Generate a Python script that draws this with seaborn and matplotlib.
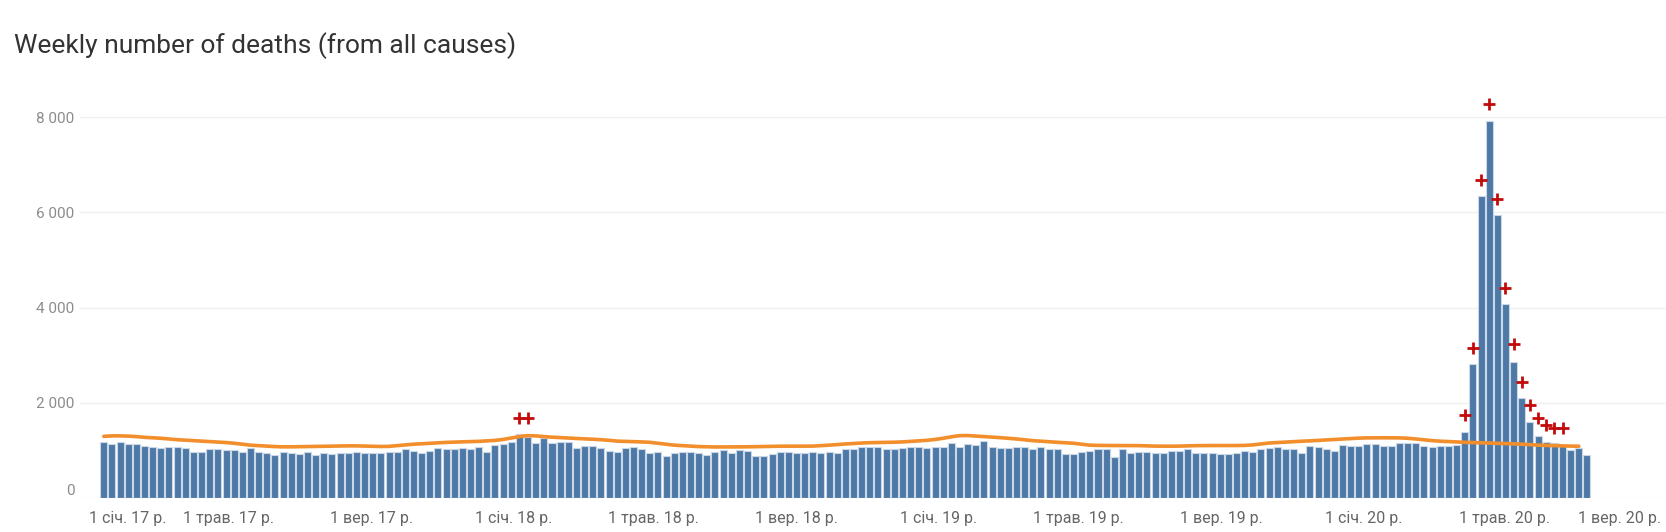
import pandas as pd
import matplotlib
matplotlib.use("Agg")
import matplotlib.pyplot as plt
import matplotlib.transforms as mtransforms
import seaborn as sns

# Weekly deaths (bars)
deaths = [
    1186, 1144, 1179, 1144, 1137, 1102, 1067, 1046, 1067, 1081,
    1060, 975, 975, 1039, 1039, 1004, 1004, 975, 1053, 975,
    947, 898, 975, 947, 926, 975, 898, 954, 926, 947,
    947, 975, 954, 954, 954, 968, 968, 1039, 996, 947,
    996, 1053, 1039, 1039, 1053, 1039, 1074, 968, 1109, 1137,
    1186, 1347, 1277, 1158, 1256, 1158, 1179, 1179, 1053, 1102,
    1102, 1053, 996, 968, 1053, 1074, 1032, 947, 968, 891,
    947, 960, 968, 947, 912, 968, 1018, 947, 1018, 996,
    891, 891, 926, 968, 968, 947, 947, 968, 947, 968,
    947, 1032, 1032, 1067, 1081, 1081, 1032, 1032, 1053, 1081,
    1081, 1053, 1081, 1081, 1158, 1074, 1137, 1120, 1207, 1074,
    1053, 1053, 1074, 1074, 1032, 1074, 1032, 1032, 926, 926,
    968, 996, 1032, 1032, 863, 1032, 947, 968, 968, 947,
    947, 996, 996, 1032, 947, 947, 947, 926, 926, 947,
    996, 968, 1032, 1050, 1074, 1032, 1032, 947, 1102, 1074,
    1032, 996, 1123, 1102, 1102, 1137, 1137, 1102, 1102, 1158,
    1158, 1158, 1102, 1074, 1102, 1102, 1123, 1389, 2815, 6334,
    7923, 5951, 4084, 2860, 2105, 1600, 1312, 1179, 1158, 1123,
    1004, 1053, 898,
]

# Expected deaths (orange line)
expected = [
    1295, 1305, 1305, 1300, 1290, 1275, 1265, 1255, 1240, 1225,
    1215, 1205, 1195, 1185, 1175, 1165, 1150, 1130, 1110, 1100,
    1090, 1080, 1075, 1075, 1078, 1080, 1082, 1085, 1090, 1093,
    1095, 1095, 1090, 1085, 1082, 1085, 1100, 1115, 1130, 1140,
    1150, 1160, 1168, 1175, 1180, 1185, 1190, 1200, 1210, 1230,
    1260, 1290, 1310, 1305, 1290, 1278, 1270, 1260, 1250, 1242,
    1235, 1225, 1212, 1195, 1190, 1185, 1178, 1170, 1150, 1130,
    1110, 1100, 1090, 1080, 1075, 1072, 1072, 1072, 1074, 1075,
    1078, 1082, 1086, 1088, 1088, 1088, 1088, 1090, 1100, 1110,
    1123, 1135, 1145, 1155, 1162, 1165, 1168, 1172, 1178, 1188,
    1200, 1212, 1230, 1255, 1285, 1310, 1312, 1300, 1290, 1280,
    1268, 1255, 1240, 1222, 1205, 1193, 1182, 1170, 1160, 1150,
    1130, 1110, 1105, 1103, 1102, 1102, 1102, 1100, 1095, 1090,
    1088, 1088, 1090, 1095, 1100, 1102, 1102, 1102, 1102, 1102,
    1105, 1115, 1135, 1155, 1165, 1175, 1185, 1193, 1200, 1210,
    1220, 1228, 1238, 1248, 1258, 1263, 1265, 1265, 1265, 1263,
    1255, 1240, 1222, 1205, 1193, 1185, 1178, 1170, 1165, 1160,
    1155, 1150, 1144, 1138, 1130, 1122, 1110, 1105, 1100, 1095,
    1090, 1088,
]

# Red crosses (weeks flagged above the threshold)
cross_weeks = [51, 52, 167, 168, 169, 170, 171, 172, 173, 174, 175, 176, 177, 178, 179]
cross_values = [1684, 1684, 1754, 3160, 6683, 8279, 6286, 4418, 3225, 2427, 1958, 1684, 1537, 1480, 1474]

tick_dates = ["2017-01-01", "2017-05-01", "2017-09-01", "2018-01-01", "2018-05-01", "2018-09-01",
              "2019-01-01", "2019-05-01", "2019-09-01", "2020-01-01", "2020-05-01", "2020-09-01"]
tick_labels = ["1 січ. 17 р.", "1 трав. 17 р.", "1 вер. 17 р.", "1 січ. 18 р.", "1 трав. 18 р.", "1 вер. 18 р.",
               "1 січ. 19 р.", "1 трав. 19 р.", "1 вер. 19 р.", "1 січ. 20 р.", "1 трав. 20 р.", "1 вер. 20 р."]
y_ticks = [0, 2000, 4000, 6000, 8000]
y_labels = ["0", "2 000", "4 000", "6 000", "8 000"]

weeks = pd.date_range("2017-01-14", periods=len(deaths), freq="7D")

sns.set_theme(style="white")
plt.rcParams["font.family"] = ["Roboto", "DejaVu Sans"]

fig = plt.figure(figsize=(16.66, 5.32), dpi=100)
ax = fig.add_axes([80 / 1666, 34 / 532, 1586 / 1666, 408 / 532])

# bars
sns.barplot(x=list(range(len(deaths))), y=deaths, orient="x", color="#4e79a7", saturation=1,
            width=0.86, edgecolor="#c9d7e6", linewidth=0.8, errorbar=None, ax=ax)

# expected line
sns.lineplot(x=list(range(len(expected))), y=expected, color="#f28e2b", linewidth=2.6, ax=ax)

# flagged weeks
sns.scatterplot(x=cross_weeks, y=cross_values, marker="+", s=85, color="#c30b0b", linewidth=2.0, ax=ax, zorder=5)

ax.set_xlim(-2.92, 191.7)
ax.set_ylim(0, 8571)
ax.set_xlabel("")
ax.set_ylabel("")

# date ticks on the week index axis
tick_pos = [(pd.Timestamp(d) - weeks[0]).days / 7 for d in tick_dates]
ax.set_xticks(tick_pos)
ax.set_xticklabels(tick_labels)
ax.set_yticks(y_ticks)
ax.set_yticklabels(y_labels)
ax.tick_params(axis="x", length=0, pad=9, labelsize=11.5, labelcolor="#666666")
ax.tick_params(axis="y", length=0, pad=4, labelsize=11, labelcolor="#8c8c8c")

xl = ax.get_xticklabels()
xl[0].set_ha("left")
xl[-1].set_ha("right")
xl[-1].set_transform(xl[-1].get_transform() + mtransforms.ScaledTranslation(14 / 100, 0, fig.dpi_scale_trans))
ax.get_yticklabels()[0].set_va("bottom")

ax.yaxis.grid(True, color="#f0f0f0", linewidth=1)
ax.xaxis.grid(False)
ax.set_axisbelow(True)
for s in ax.spines.values():
    s.set_visible(False)

fig.text(14 / 1666, 1 - 53 / 532, "Weekly number of deaths (from all causes)", fontsize=19,
         color="#333333", va="baseline", ha="left")

fig.savefig("out.png", dpi=100)
